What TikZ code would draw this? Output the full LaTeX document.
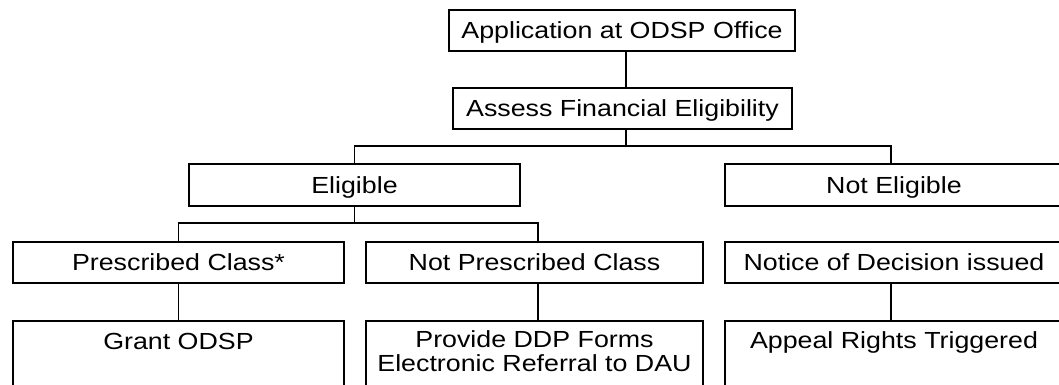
\documentclass[tikz,border=0pt]{standalone}
\usepackage{fontspec}
\setmainfont{Liberation Sans}[FakeStretch=1.15]
\begin{document}
\begin{tikzpicture}[x=1pt,y=-1pt,
  box/.style={draw, line width=1.8pt, inner sep=0pt, text height=16.5pt, text depth=0pt,
    font=\fontsize{23.3}{24}\selectfont, align=center},
  tallbox/.style={box, anchor=north, text height=29pt, text depth=100pt},
  link/.style={line width=1.8pt}]
\useasboundingbox (0,0) rectangle (1059,384);
\fill[white] (0,0) rectangle (1059,384);
\node[box, minimum width=346, minimum height=41] (app) at (622,30.5) {Application at ODSP Office};
\node[box, minimum width=339, minimum height=41] (assess) at (622.5,108.5) {Assess Financial Eligibility};
\node[box, minimum width=331, minimum height=42] (elig) at (354.5,185) {Eligible};
\node[box, minimum width=338, minimum height=42] (notelig) at (894,185) {Not Eligible};
\node[box, minimum width=331, minimum height=41] (presc) at (178.5,262.5) {Prescribed Class*};
\node[box, minimum width=337, minimum height=41] (notpresc) at (534.5,262.5) {Not Prescribed Class};
\node[box, minimum width=338, minimum height=41] (notice) at (894,262.5) {Notice of Decision issued};
\node[tallbox, minimum width=331] (grant) at (178.5,320) {Grant ODSP};
\node[tallbox, minimum width=337, text height=51pt, text depth=80pt] (provide) at (534.5,320) {Provide DDP Forms\\Electronic Referral to DAU};
\node[tallbox, minimum width=338, text height=28pt] (appeal) at (894,320) {Appeal Rights Triggered};
\coordinate (j1) at (626,146);
\coordinate (j2) at (891,146);
\coordinate (k2) at (538,223);
\draw[link] (app.south -| j1) -- (assess.north -| j1);
\draw[link] (assess.south -| j1) -- (j1);
\draw[link] (elig.north) |- (j2) -- (notelig.north -| j2);
\draw[link] (elig.south) -- (elig.south |- k2);
\draw[link] (presc.north) |- (k2) -- (notpresc.north -| k2);
\draw[link] (presc.south) -- (grant.north);
\draw[link] (notpresc.south -| k2) -- (provide.north -| k2);
\draw[link] (notice.south -| j2) -- (appeal.north -| j2);
\end{tikzpicture}
\end{document}
